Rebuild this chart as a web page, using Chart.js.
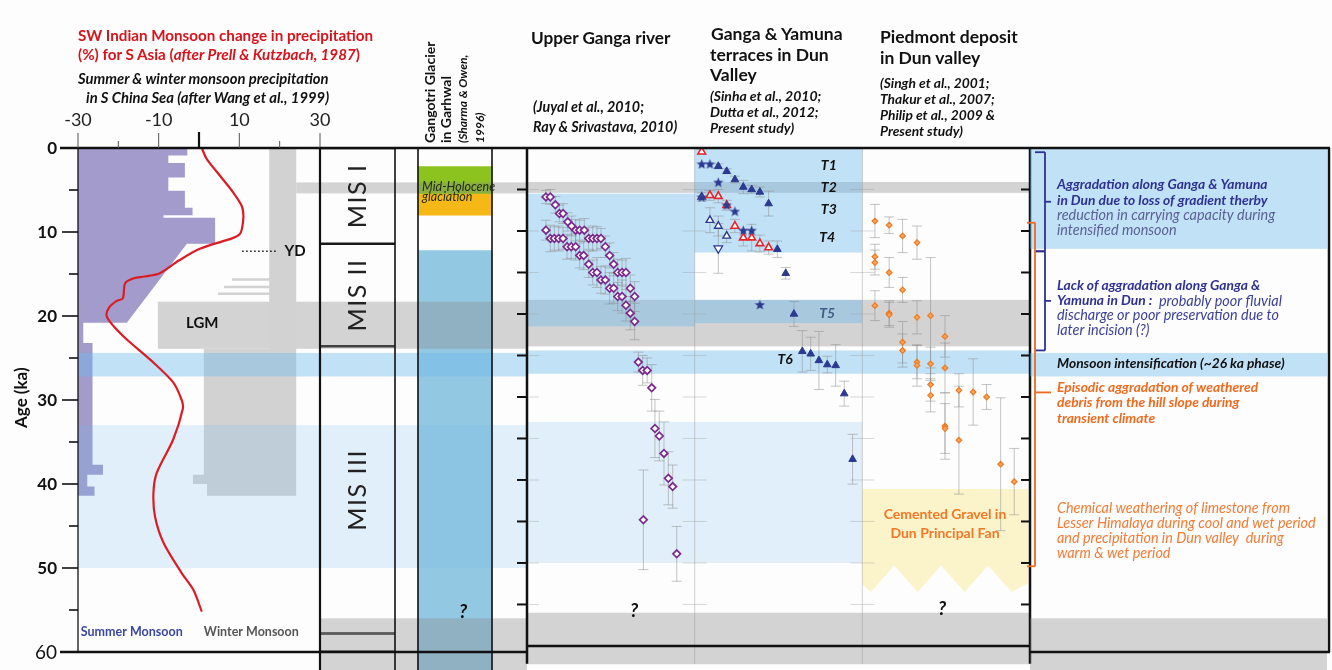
<!DOCTYPE html>
<html>
<head>
<meta charset="utf-8">
<title>Dun valley aggradation and monsoon</title>
<script src="https://cdn.jsdelivr.net/npm/chart.js@4.4.1/dist/chart.umd.min.js"></script>
<style>
  html, body { margin: 0; background: #fdfdfd; }
  #fig { position: relative; width: 1332px; height: 670px; overflow: hidden; font-family: Lato, "Open Sans", sans-serif; color: #111; }
  #fig canvas { position: absolute; left: 0; top: 0; }
  .t { position: absolute; white-space: nowrap; line-height: 1; }
  .b { font-weight: 700; }
  .i { font-style: italic; }
  .rot { transform-origin: 0 0; transform: rotate(-90deg); line-height: 15px; }
</style>
</head>
<body>
<div id="fig">
  <canvas id="monsoon" width="1332" height="670"></canvas>
  <canvas id="columns" width="1332" height="670"></canvas>
  <canvas id="dating" width="1332" height="670"></canvas>
  <canvas id="notes" width="1332" height="670"></canvas>

  <div class="t b" style="left:78px;top:28px;font-size:15.2px;color:#d7141c">SW Indian Monsoon change in precipitation</div>
  <div class="t b" style="left:78px;top:47px;font-size:15.2px;color:#d7141c">(%) for S Asia (<span class="i">after Prell &amp; Kutzbach, 1987</span>)</div>
  <div class="t b i" style="left:78px;top:71px;font-size:14.8px">Summer &amp; winter monsoon precipitation</div>
  <div class="t b i" style="left:86px;top:90px;font-size:14.8px">in S China Sea (after Wang et al., 1999)</div>

  <div class="t rot" style="left:421px;top:143px"><span class="b" style="font-size:14px">Gangotri Glacier</span><br><span class="b" style="font-size:14px">in Garhwal</span><br><span class="b i" style="font-size:12px">(Sharma &amp; Owen,</span><br><span class="b i" style="font-size:12px">1996)</span></div>

  <div class="t b" style="left:531px;top:29px;font-size:17.2px">Upper Ganga river</div>
  <div class="t b i" style="left:533px;top:100px;font-size:14.3px">(Juyal et al., 2010;</div>
  <div class="t b i" style="left:533px;top:120px;font-size:14.3px">Ray &amp; Srivastava, 2010)</div>

  <div class="t b" style="left:711px;top:25px;font-size:17.5px">Ganga &amp; Yamuna</div>
  <div class="t b" style="left:710px;top:46px;font-size:17.5px">terraces in Dun</div>
  <div class="t b" style="left:710px;top:66px;font-size:17.5px">Valley</div>
  <div class="t b i" style="left:710px;top:89px;font-size:14px">(Sinha et al., 2010;</div>
  <div class="t b i" style="left:710px;top:105px;font-size:14px">Dutta et al., 2012;</div>
  <div class="t b i" style="left:710px;top:121px;font-size:14px">Present study)</div>

  <div class="t b" style="left:880px;top:28px;font-size:17.5px">Piedmont deposit</div>
  <div class="t b" style="left:880px;top:49px;font-size:17.5px">in Dun valley</div>
  <div class="t b i" style="left:880px;top:76px;font-size:13.8px">(Singh et al., 2001;</div>
  <div class="t b i" style="left:880px;top:92px;font-size:13.8px">Thakur et al., 2007;</div>
  <div class="t b i" style="left:880px;top:108px;font-size:13.8px">Philip et al., 2009 &amp;</div>
  <div class="t b i" style="left:880px;top:124px;font-size:13.8px">Present study)</div>

  <div class="t b rot" style="left:12px;top:428px;font-size:17px;line-height:18px">Age (ka)</div>
</div>

<script>
// ---------------- data (ages in ka) ----------------
const ageTicks = [5, 10, 15, 20, 25, 30, 35, 40, 45, 50, 55];
const ageLabels = [0, 10, 20, 30, 40, 50, 60];
const precipTicks = [-30, -20, -10, 0, 10, 20, 30];
const precipLabels = [-30, -10, 10, 30];

// SW Indian monsoon change in precipitation (%)
const swMonsoonAge = [0, 1.3, 3.3, 5.3, 6.9, 8.0, 9.2, 10.2, 10.7, 12.0, 13.4, 14.9, 15.3, 15.5, 16.1, 17.9, 18.2, 19.0, 20.0, 21.2, 22.8, 25.2, 27.9, 30.0, 31.0, 34.7, 38.7, 41.1, 43.9, 47.0, 50.6, 52.6, 55.2];
const swMonsoonChange = [0.7, 1.9, 5.2, 8.5, 10.6, 11.0, 10.8, 10.2, 8.5, 0.2, -5.0, -9.7, -13.6, -16.1, -18.3, -18.9, -20.4, -22.3, -22.9, -21.2, -17.9, -12.1, -6.4, -4.3, -4.0, -6.4, -10.5, -11.3, -10.9, -8.8, -4.3, -1.4, 0.7];

// summer monsoon (S China Sea), right edge of the stepped bar
const summerAge = [0, 0.9, 0.9, 1.8, 1.8, 3.5, 3.5, 5.1, 5.1, 7.1, 7.1, 8.0, 8.0, 8.3, 8.3, 11.4, 11.4, 20.8, 20.8, 23.2, 23.2, 37.7, 37.7, 38.9, 38.9, 40.3, 40.3, 41.4];
const summerEdge = [-2.9, -2.9, -7.6, -7.6, -3.5, -3.5, -7.6, -7.6, -3.5, -3.5, -1.6, -1.6, -8.8, -8.8, 4.0, 4.0, -3.0, -17.9, -28.7, -28.7, -26.4, -26.4, -23.8, -23.8, -27.7, -27.7, -25.9, -25.9];

// winter monsoon (S China Sea), left edge of the stepped bar
const winterAge = [0, 15.5, 15.5, 15.8, 15.8, 16.4, 16.4, 16.7, 16.7, 17.2, 17.2, 17.5, 17.5, 23.9, 23.9, 38.9, 38.9, 40.0, 40.0, 41.4];
const winterEdge = [17.4, 17.4, 8.2, 8.2, 17.4, 17.4, 6.2, 6.2, 17.4, 17.4, 4.7, 4.7, 17.4, 17.4, 1.2, 1.2, -1.5, -1.5, 2.0, 2.0];
const winterRight = 24.1;

// climate bands
const greyBands = [[4.1, 5.4], [18.3, 23.9], [56, 62.2]];
const intensification = [24.4, 27.2];
const mis3Humid = [33, 50];
const ugAggradation = [5.5, 21.5];
const gyAggradation = [[0, 12.6], [18.3, 21.1]];
const notesAggradation = [0, 12];

// stratigraphic columns
const misStages = ['MIS I', 'MIS II', 'MIS III', ''];
const misBounds = [[0, 11.4], [11.4, 23.6], [23.6, 57.8], [57.8, 60]];
const gangotriBounds = [[2.2, 5.5], [5.5, 8.0], [12.2, 62.2]];

// Upper Ganga river ages (x = sample position within panel, 0-100)
const ugX = [11.3, 13.9, 16.9, 19.3, 21.5, 24.3, 26.6, 29.0, 31.4, 34.2, 36.8, 39.2, 41.7, 44.1, 46.7, 49.3, 51.7, 54.1, 56.7, 59.0, 61.6, 64.2,
  11.3, 13.9, 16.3, 18.9, 21.5, 23.9, 26.4, 29.0, 31.4, 33.8, 36.8, 39.2, 41.7, 44.1, 46.7, 49.3, 51.7, 54.1, 56.7, 59.0, 61.6, 64.2,
  66.4, 69.0, 71.7, 74.4, 76.3, 78.9, 81.7, 84.3, 86.9, 69.4, 89.3];
const ugAge = [5.9, 5.9, 6.85, 7.9, 7.9, 8.9, 9.4, 9.9, 9.9, 9.9, 10.9, 10.9, 10.9, 10.9, 11.9, 12.95, 14.0, 15.0, 15.0, 15.0, 16.9, 17.9,
  9.9, 10.9, 10.9, 10.9, 10.9, 11.9, 11.9, 11.9, 12.95, 12.95, 14.0, 15.0, 15.0, 15.9, 15.9, 16.9, 16.9, 17.9, 17.9, 18.95, 19.9, 20.9,
  25.8, 26.8, 26.8, 28.9, 33.8, 34.7, 36.8, 39.8, 40.8, 44.8, 48.9];
const ugErr = [0.8, 0.9, 1.0, 1.0, 1.2, 1.1, 1.2, 1.3, 1.2, 1.4, 1.3, 1.5, 1.4, 1.2, 1.3, 1.5, 1.4, 1.6, 1.5, 1.7, 1.6, 1.8,
  1.2, 1.6, 1.4, 1.5, 1.3, 1.5, 1.4, 1.6, 1.5, 1.7, 1.6, 1.5, 1.8, 1.6, 1.7, 1.9, 1.8, 1.7, 2.0, 1.9, 2.0, 2.2,
  1.2, 1.8, 1.5, 2.8, 3.5, 3.0, 3.8, 3.2, 2.6, 6.0, 3.3];

// Ganga & Yamuna terraces (x = 100-200)
const gyRedX = [104.2, 109.1, 114.1, 119.1, 124.0, 129.0, 134.0, 138.9, 144.1];
const gyRedAge = [0.45, 5.7, 5.8, 6.9, 9.4, 10.8, 10.8, 11.5, 12.0];
const gyRedErr = [0.3, 0.6, 0.8, 0.6, 0.8, 1.0, 1.6, 1.0, 0.8];
const gyBlueX = [114.1, 119.1, 124.0, 129.0, 134.0, 138.9, 144.1, 149.3, 154.3, 159.2, 164.2, 169.2, 174.1, 179.1, 184.1, 189.2, 194.2];
const gyBlueAge = [2.2, 2.8, 3.8, 4.7, 5.0, 5.3, 6.7, 12.2, 15.1, 20.0, 24.5, 24.8, 25.6, 26.1, 26.2, 29.6, 37.5];
const gyBlueErr = [0.3, 0.3, 0.4, 0.8, 0.5, 0.6, 1.5, 1.0, 0.7, 1.5, 2.5, 2.0, 3.5, 1.0, 2.5, 1.5, 3.0];
const gyStarX = [104.2, 109.1, 114.1, 119.1, 124.0, 129.0, 134.0, 138.9, 104.2];
const gyStarAge = [1.9, 1.9, 4.1, 6.85, 7.6, 9.9, 9.9, 18.85, 5.9];
const gyOpenX = [104.2, 109.1, 114.1, 119.1];
const gyOpenAge = [5.9, 8.7, 9.4, 10.6];
const gyOpenErr = [0.5, 1.5, 1.2, 0.8];
const gyInvX = [114.1];
const gyInvAge = [12.1];
const gyInvErr = [3.0];

// Piedmont deposit (x = 200-300)
const pdX = [207.5, 207.5, 207.5, 207.5, 216.0, 216.0, 216.0, 216.0, 224.0, 224.0, 224.0, 224.0, 232.6, 232.6, 232.6, 232.6,
  240.7, 240.7, 240.7, 240.7, 249.3, 249.3, 249.3, 249.3, 257.6, 257.6, 266.1, 274.1, 282.5, 290.6];
const pdAge = [8.8, 13.1, 13.8, 19.0, 9.3, 15.0, 19.9, 20.1, 10.6, 17.1, 23.4, 24.4, 11.4, 20.4, 25.8, 26.2,
  20.2, 26.0, 28.5, 29.8, 22.7, 26.5, 33.5, 33.8, 29.2, 35.2, 29.4, 30.0, 38.1, 40.2];
const pdErr = [2.0, 1.5, 1.5, 1.8, 1.0, 1.8, 1.5, 1.5, 2.0, 1.5, 2.5, 2.0, 2.0, 2.0, 2.0, 2.5,
  7.0, 2.0, 2.0, 2.0, 2.5, 3.0, 4.0, 3.0, 2.0, 6.5, 4.0, 1.5, 8.0, 4.0];

// Cemented gravel in Dun Principal Fan (outline)
const gravelX = [200, 299, 299, 289, 275, 261, 247, 233, 219, 205, 200];
const gravelAge = [41.1, 41.1, 52.4, 53.5, 50.3, 53.5, 50.3, 53.5, 50.3, 53.5, 52.6];

// ---------------- helpers ----------------
const GREY = 'rgba(135,135,135,0.36)';
const BLUE = 'rgba(110,185,235,0.42)';
const PALE = 'rgba(110,185,235,0.2)';
const NAVY = '#2e3192';
const ORANGE = '#ef6a1f';
const AGE_BELOW = 62.15;

function txt(ctx, s, x, y, font, color, align) {
  ctx.font = font; ctx.fillStyle = color; ctx.textAlign = align || 'left'; ctx.textBaseline = 'middle';
  ctx.fillText(s, x, y);
}
function runs(ctx, parts, x, y) {
  ctx.textAlign = 'left'; ctx.textBaseline = 'middle';
  parts.forEach(([s, font, color]) => { ctx.font = font; ctx.fillStyle = color; ctx.fillText(s, x, y); x += ctx.measureText(s).width; });
}
function seg(ctx, x0, y0, x1, y1, w, color) {
  ctx.beginPath(); ctx.lineWidth = w; ctx.strokeStyle = color || '#111';
  ctx.moveTo(x0, y0); ctx.lineTo(x1, y1); ctx.stroke();
}
function pts(xs, ys) { return xs.map((x, i) => ({x: x, y: ys[i]})); }

function bandLayer(list, frontAfterIndex) {
  function draw(chart, layer) {
    const {ctx, chartArea: a, scales: {x, y}} = chart;
    ctx.save();
    list.forEach(b => {
      if ((b.layer || 'back') !== layer) return;
      const x0 = b.from == null ? a.left : x.getPixelForValue(b.from);
      const x1 = b.to == null ? a.right : x.getPixelForValue(b.to);
      const y0 = y.getPixelForValue(b.ages[0]), y1 = y.getPixelForValue(b.ages[1]);
      ctx.fillStyle = b.color;
      ctx.fillRect(x0, y0, x1 - x0, y1 - y0);
    });
    ctx.restore();
  }
  return {
    id: 'bands',
    beforeDatasetsDraw(chart) { draw(chart, 'back'); },
    afterDatasetDraw(chart, args) { if (args.index === frontAfterIndex) draw(chart, 'front'); },
    afterDatasetsDraw(chart) { if (frontAfterIndex == null) draw(chart, 'front'); }
  };
}

function baseOptions(padding, xRange, yMax) {
  return {
    responsive: false,
    animation: false,
    events: [],
    layout: {padding: padding},
    plugins: {legend: {display: false}, tooltip: {enabled: false}},
    scales: {
      x: {type: 'linear', min: xRange[0], max: xRange[1], display: false, offset: false},
      y: {type: 'linear', min: 0, max: yMax, reverse: true, display: false}
    }
  };
}

function starImage(size, color) {
  const c = document.createElement('canvas');
  c.width = c.height = size;
  const g = c.getContext('2d');
  g.fillStyle = color;
  g.beginPath();
  for (let i = 0; i < 10; i++) {
    const r = i % 2 ? size * 0.21 : size / 2;
    const a = -Math.PI / 2 + i * Math.PI / 5;
    g.lineTo(size / 2 + r * Math.cos(a), size / 2 + size * 0.06 + r * Math.sin(a));
  }
  g.closePath();
  g.fill();
  return c;
}

// ---------------- monsoon panel ----------------
const summerOutline = [{x: -30, y: summerAge[0]}].concat(pts(summerEdge, summerAge), [{x: -30, y: summerAge[summerAge.length - 1]}]);
const winterOutline = [{x: winterRight, y: winterAge[0]}].concat(pts(winterEdge, winterAge), [{x: winterRight, y: winterAge[winterAge.length - 1]}]);

const monsoonDecor = {
  id: 'monsoonDecor',
  afterDraw(chart) {
    const {ctx, chartArea: a, scales: {x, y}} = chart;
    ctx.save();
    const top = y.getPixelForValue(0), bottom = y.getPixelForValue(60);
    seg(ctx, 60, top, a.right, top, 2.5);
    seg(ctx, 60, bottom, a.right, bottom, 2.5);
    seg(ctx, a.left, top, a.left, bottom, 1.3);
    ageTicks.forEach(v => {
      const py = y.getPixelForValue(v);
      seg(ctx, a.left - (v % 10 === 0 ? 16 : 9), py, a.left, py, 1.6);
    });
    ageLabels.forEach(v => {
      const f = v === 60 ? '400 19px Lato' : '700 17px Lato';
      txt(ctx, String(v), 57, y.getPixelForValue(v) + 1, f, '#111', 'right');
    });
    precipTicks.forEach(v => {
      const px = x.getPixelForValue(v);
      const len = v === 0 ? 16 : (precipLabels.includes(v) ? 15 : 7);
      seg(ctx, px, top, px, top - len, v === 0 ? 2.2 : 1, v === 0 ? '#111' : '#555');
    });
    precipLabels.forEach(v => txt(ctx, String(v), x.getPixelForValue(v), 120, '400 18px Lato', '#222', 'center'));
    // annotations
    ctx.setLineDash([1.5, 2.5]);
    seg(ctx, x.getPixelForValue(10.7), y.getPixelForValue(12.3), x.getPixelForValue(19.6), y.getPixelForValue(12.3), 1.5);
    ctx.setLineDash([]);
    txt(ctx, 'YD', x.getPixelForValue(21.2), y.getPixelForValue(12.3), '700 15px Lato', '#111');
    txt(ctx, 'LGM', x.getPixelForValue(0.8), y.getPixelForValue(20.9), '700 15px Lato', '#111', 'center');
    txt(ctx, 'Summer Monsoon', x.getPixelForValue(-29.3), y.getPixelForValue(57.6), '700 12.5px Lato', '#3a47a0');
    txt(ctx, 'Winter Monsoon', x.getPixelForValue(1.2), y.getPixelForValue(57.6), '700 12.5px Lato', '#555');
    ctx.restore();
  }
};

new Chart(document.getElementById('monsoon'), {
  type: 'line',
  data: {
    datasets: [
      {label: 'SW Indian monsoon', data: pts(swMonsoonChange, swMonsoonAge), borderColor: '#dc1c24', borderWidth: 2.2,
        pointRadius: 0, tension: 0.3, fill: false, order: 1},
      {label: 'Summer monsoon', data: summerOutline, borderWidth: 0, pointRadius: 0, tension: 0,
        backgroundColor: '#a29bcc', fill: 'shape', order: 2},
      {label: 'Winter monsoon', data: winterOutline, borderWidth: 0, pointRadius: 0, tension: 0,
        backgroundColor: '#d2d2d2', fill: 'shape', order: 3}
    ]
  },
  options: baseOptions({left: 78, right: 1012, top: 148, bottom: 18}, [-30, 30], 60),
  plugins: [bandLayer([
    {ages: greyBands[0], from: winterRight, color: GREY},
    {ages: greyBands[1], from: -10.2, color: GREY},
    {ages: intensification, color: BLUE, layer: 'front'},
    {ages: mis3Humid, color: PALE, layer: 'front'}
  ], 1), monsoonDecor]
});

// ---------------- MIS and Gangotri columns ----------------
const columnCentre = {mis: 37.5, gangotri: 135};

const columnDecor = {
  id: 'columnDecor',
  afterDraw(chart) {
    const {ctx, chartArea: a, scales: {y}} = chart;
    const top = y.getPixelForValue(0), bottom = y.getPixelForValue(60);
    ctx.save();
    seg(ctx, a.left, top, a.right, top, 2.5);
    seg(ctx, a.left, bottom, a.right, bottom, 2.5);
    const mis = chart.getDatasetMeta(0).data[0];
    const gan = chart.getDatasetMeta(1).data[0];
    seg(ctx, a.left, top, a.left, a.bottom, 2.2);
    seg(ctx, mis.x + mis.width / 2, top, mis.x + mis.width / 2, a.bottom, 1.6);
    seg(ctx, gan.x - gan.width / 2, top, gan.x - gan.width / 2, a.bottom, 1.6);
    seg(ctx, gan.x + gan.width / 2, top, gan.x + gan.width / 2, a.bottom, 1.6);
    chart.getDatasetMeta(0).data.forEach((bar, i) => {
      if (!misStages[i]) return;
      const cy = y.getPixelForValue((misBounds[i][0] + misBounds[i][1]) / 2);
      ctx.save();
      ctx.translate(bar.x, cy);
      ctx.rotate(-Math.PI / 2);
      ctx.letterSpacing = '1.5px';
      txt(ctx, misStages[i], 0, 0, '400 25px Lato', '#222', 'center');
      ctx.restore();
    });
    txt(ctx, 'Mid-Holocene', gan.x - gan.width / 2 + 4, y.getPixelForValue(4.6), 'italic 400 12.5px Lato', '#1d2a12');
    txt(ctx, 'glaciation', gan.x - gan.width / 2 + 4, y.getPixelForValue(5.85), 'italic 400 12.5px Lato', '#1d2a12');
    txt(ctx, '?', gan.x + 8, y.getPixelForValue(55.2), 'italic 700 19px Lato', '#111', 'center');
    ctx.restore();
  }
};

new Chart(document.getElementById('columns'), {
  type: 'bar',
  data: {
    datasets: [
      {label: 'Marine isotope stages', data: misBounds.map(b => ({x: columnCentre.mis, y: b})),
        backgroundColor: 'rgba(0,0,0,0)', borderColor: '#1a1a1a', borderWidth: {top: 1, bottom: 1, left: 0, right: 0},
        borderSkipped: false, barThickness: 75, grouped: false},
      {label: 'Gangotri glacier', data: gangotriBounds.map(b => ({x: columnCentre.gangotri, y: b})),
        backgroundColor: ['#8cc31e', '#f6b817', '#93c8e2'], borderWidth: 0, barThickness: 74, grouped: false}
    ]
  },
  options: baseOptions({left: 320, right: 805, top: 148, bottom: 0}, [0, 207], AGE_BELOW),
  plugins: [bandLayer([
    {ages: greyBands[0], color: GREY, layer: 'front'},
    {ages: greyBands[1], color: GREY, layer: 'front'},
    {ages: greyBands[2], color: GREY, layer: 'front'},
    {ages: intensification, color: BLUE, layer: 'front'},
    {ages: mis3Humid, color: PALE, layer: 'front'}
  ]), columnDecor]
});

// ---------------- dating panels ----------------
function withErrors(errorFirstAfter) {
  return {
    id: 'errorBars',
    afterDatasetDraw(chart, args) {
      if (args.index !== errorFirstAfter) return;
      const {ctx, scales: {y}} = chart;
      ctx.save();
      ctx.strokeStyle = 'rgba(140,140,140,0.5)';
      ctx.lineWidth = 1;
      chart.data.datasets.forEach((ds, di) => {
        if (!ds.errors) return;
        chart.getDatasetMeta(di).data.forEach((p, j) => {
          const age = ds.data[j].y, e = ds.errors[j];
          const y0 = y.getPixelForValue(age - e), y1 = y.getPixelForValue(age + e);
          ctx.beginPath();
          ctx.moveTo(p.x, y0); ctx.lineTo(p.x, y1);
          ctx.moveTo(p.x - 5, y0); ctx.lineTo(p.x + 5, y0);
          ctx.moveTo(p.x - 5, y1); ctx.lineTo(p.x + 5, y1);
          ctx.stroke();
        });
      });
      ctx.restore();
    }
  };
}

const terraceLabels = [
  {text: 'T1', x: 180, age: 2.1, color: '#111'},
  {text: 'T2', x: 180, age: 4.75, color: '#111'},
  {text: 'T3', x: 180, age: 7.4, color: '#111'},
  {text: 'T4', x: 179, age: 10.8, color: '#111'},
  {text: 'T5', x: 179, age: 19.9, color: '#3e5f86'},
  {text: 'T6', x: 154, age: 25.5, color: '#111'}
];

const datingDecor = {
  id: 'datingDecor',
  afterDraw(chart) {
    const {ctx, chartArea: a, scales: {x, y}} = chart;
    const top = y.getPixelForValue(0), bottom = y.getPixelForValue(60);
    ctx.save();
    [100, 200].forEach(v => seg(ctx, x.getPixelForValue(v), top, x.getPixelForValue(v), a.bottom, 1, 'rgba(150,150,150,0.45)'));
    ageTicks.forEach(v => {
      const py = y.getPixelForValue(v);
      seg(ctx, a.left - 10, py, a.left, py, 2);
      seg(ctx, a.right - 9, py, a.right, py, 2);
      [0, 100, 200].forEach(c => {
        const px = x.getPixelForValue(c);
        seg(ctx, px + (c ? -12 : 2), py, px + 12, py, 1, 'rgba(150,150,150,0.35)');
      });
    });
    seg(ctx, a.left, top, a.right, top, 2.5);
    seg(ctx, a.left, bottom, a.right, bottom, 2.5);
    seg(ctx, a.left, top, a.left, a.bottom, 2.5);
    seg(ctx, a.right, top, a.right, a.bottom, 2.5);
    terraceLabels.forEach(l => txt(ctx, l.text, x.getPixelForValue(l.x), y.getPixelForValue(l.age), 'italic 700 14px Lato', l.color, 'center'));
    txt(ctx, '?', x.getPixelForValue(63.8), y.getPixelForValue(55.8), 'italic 700 19px Lato', '#111', 'center');
    txt(ctx, '?', x.getPixelForValue(247.5), y.getPixelForValue(55.5), 'italic 700 19px Lato', '#111', 'center');
    txt(ctx, 'Cemented Gravel in', x.getPixelForValue(249.3), y.getPixelForValue(44.2), '700 14px Lato', '#f07828', 'center');
    txt(ctx, 'Dun Principal Fan', x.getPixelForValue(249.3), y.getPixelForValue(46.4), '700 14px Lato', '#f07828', 'center');
    ctx.restore();
  }
};

new Chart(document.getElementById('dating'), {
  type: 'scatter',
  data: {
    datasets: [
      {type: 'line', label: 'Cemented gravel', data: pts(gravelX, gravelAge), backgroundColor: '#fbf3c9', borderWidth: 0,
        pointRadius: 0, tension: 0, fill: 'shape', order: 10},
      {label: 'Upper Ganga', data: pts(ugX, ugAge), errors: ugErr, pointStyle: 'rectRot', pointRadius: 3.8,
        borderColor: '#7b2a8c', backgroundColor: '#ffffff', borderWidth: 1.7, order: 5},
      {label: 'Ganga & Yamuna (red)', data: pts(gyRedX, gyRedAge), errors: gyRedErr, pointStyle: 'triangle', pointRadius: 4.4,
        borderColor: '#e3262c', backgroundColor: '#ffffff', borderWidth: 1.6, order: 4},
      {label: 'Ganga & Yamuna (open)', data: pts(gyOpenX, gyOpenAge), errors: gyOpenErr, pointStyle: 'triangle', pointRadius: 4.4,
        borderColor: '#2d3a8c', backgroundColor: '#ffffff', borderWidth: 1.4, order: 4},
      {label: 'Ganga & Yamuna (inverted)', data: pts(gyInvX, gyInvAge), errors: gyInvErr, pointStyle: 'triangle', rotation: 180,
        pointRadius: 5, borderColor: '#2d3a8c', backgroundColor: '#ffffff', borderWidth: 1.2, order: 4},
      {label: 'Ganga & Yamuna (filled)', data: pts(gyBlueX, gyBlueAge), errors: gyBlueErr, pointStyle: 'triangle', pointRadius: 4.4,
        borderColor: '#2b3990', backgroundColor: '#2b3990', borderWidth: 1, order: 3},
      {label: 'Ganga & Yamuna (stars)', data: pts(gyStarX, gyStarAge), pointStyle: starImage(11, '#2b3990'), order: 2},
      {label: 'Piedmont', data: pts(pdX, pdAge), errors: pdErr, pointStyle: 'rectRot', pointRadius: 2.8,
        borderColor: '#ee7a22', backgroundColor: '#f7a65e', borderWidth: 1.2, order: 1}
    ]
  },
  options: baseOptions({left: 527, right: 302, top: 148, bottom: 0}, [0, 300], AGE_BELOW),
  plugins: [bandLayer([
    {ages: greyBands[0], color: GREY},
    {ages: greyBands[1], color: GREY},
    {ages: greyBands[2], color: GREY},
    {ages: intensification, color: BLUE},
    {ages: mis3Humid, to: 200, color: PALE},
    {ages: ugAggradation, from: 0, to: 100, color: BLUE},
    {ages: gyAggradation[0], from: 100, to: 200, color: BLUE},
    {ages: gyAggradation[1], from: 100, to: 200, color: BLUE}
  ]), withErrors(0), datingDecor]
});

// ---------------- interpretation panel ----------------
const navyBrackets = [[0.5, 12.3], [12.3, 24.1]];
const orangeBracket = [8.9, 49.8];

const notesDecor = {
  id: 'notesDecor',
  afterDraw(chart) {
    const {ctx, chartArea: a, scales: {x, y}} = chart;
    const top = y.getPixelForValue(0), bottom = y.getPixelForValue(60);
    ctx.save();
    navyBrackets.forEach(([s, e]) => {
      const y0 = y.getPixelForValue(s), y1 = y.getPixelForValue(e), ym = (y0 + y1) / 2;
      const xv = x.getPixelForValue(15);
      seg(ctx, x.getPixelForValue(5), y0, xv, y0, 1.8, NAVY);
      seg(ctx, xv, y0, xv, y1, 1.8, NAVY);
      seg(ctx, x.getPixelForValue(5), y1, xv, y1, 1.8, NAVY);
      seg(ctx, xv, ym, x.getPixelForValue(21), ym, 1.8, NAVY);
    });
    {
      const y0 = y.getPixelForValue(orangeBracket[0]), y1 = y.getPixelForValue(orangeBracket[1]);
      const xv = x.getPixelForValue(5);
      seg(ctx, x.getPixelForValue(-3), y0, xv, y0, 1.8, ORANGE);
      seg(ctx, xv, y0, xv, y1, 1.8, ORANGE);
      seg(ctx, x.getPixelForValue(-3), y1, xv, y1, 1.8, ORANGE);
      seg(ctx, xv, y.getPixelForValue(29.1), x.getPixelForValue(21), y.getPixelForValue(29.1), 1.8, ORANGE);
    }
    const tx = x.getPixelForValue(27);
    const BI = 'italic 700 13.8px Lato', I = 'italic 400 14.4px Lato';
    txt(ctx, 'Aggradation along Ganga & Yamuna', tx, y.getPixelForValue(4.35), BI, NAVY);
    txt(ctx, 'in Dun due to loss of gradient therby', tx, y.getPixelForValue(6.2), BI, NAVY);
    txt(ctx, 'reduction in carrying capacity during', tx, y.getPixelForValue(8.0), I, '#5b6096');
    txt(ctx, 'intensified monsoon', tx, y.getPixelForValue(9.8), I, '#5b6096');
    txt(ctx, 'Lack of aggradation along Ganga &', tx, y.getPixelForValue(16.4), BI, NAVY);
    runs(ctx, [['Yamuna in Dun :', BI, NAVY], ['  probably poor fluvial', I, '#3b409a']], tx, y.getPixelForValue(18.2));
    txt(ctx, 'discharge or poor preservation due to', tx, y.getPixelForValue(19.95), I, '#3b409a');
    txt(ctx, 'later incision (?)', tx, y.getPixelForValue(21.7), I, '#3b409a');
    txt(ctx, 'Monsoon intensification (~26 ka phase)', tx, y.getPixelForValue(25.65), BI, '#111');
    txt(ctx, 'Episodic aggradation of weathered', tx, y.getPixelForValue(28.5), BI, ORANGE);
    txt(ctx, 'debris from the hill slope during', tx, y.getPixelForValue(30.35), BI, ORANGE);
    txt(ctx, 'transient climate', tx, y.getPixelForValue(32.2), BI, ORANGE);
    txt(ctx, 'Chemical weathering of limestone from', tx, y.getPixelForValue(42.9), I, '#f27b35');
    txt(ctx, 'Lesser Himalaya during cool and wet period', tx, y.getPixelForValue(44.7), I, '#f27b35');
    txt(ctx, 'and precipitation in Dun valley  during', tx, y.getPixelForValue(46.5), I, '#f27b35');
    txt(ctx, 'warm & wet period', tx, y.getPixelForValue(48.3), I, '#f27b35');
    seg(ctx, a.left, top, a.right, top, 2.5);
    seg(ctx, a.left, bottom, a.right, bottom, 2.5);
    seg(ctx, a.right - 1, top, a.right - 1, bottom, 2.5);
    ctx.restore();
  }
};

new Chart(document.getElementById('notes'), {
  type: 'scatter',
  data: {datasets: []},
  options: baseOptions({left: 1030, right: 2, top: 148, bottom: 0}, [0, 300], AGE_BELOW),
  plugins: [bandLayer([
    {ages: notesAggradation, to: 297, color: BLUE},
    {ages: intensification, to: 297, color: BLUE},
    {ages: greyBands[2], to: 297, color: GREY}
  ]), notesDecor]
});
</script>
</body>
</html>
